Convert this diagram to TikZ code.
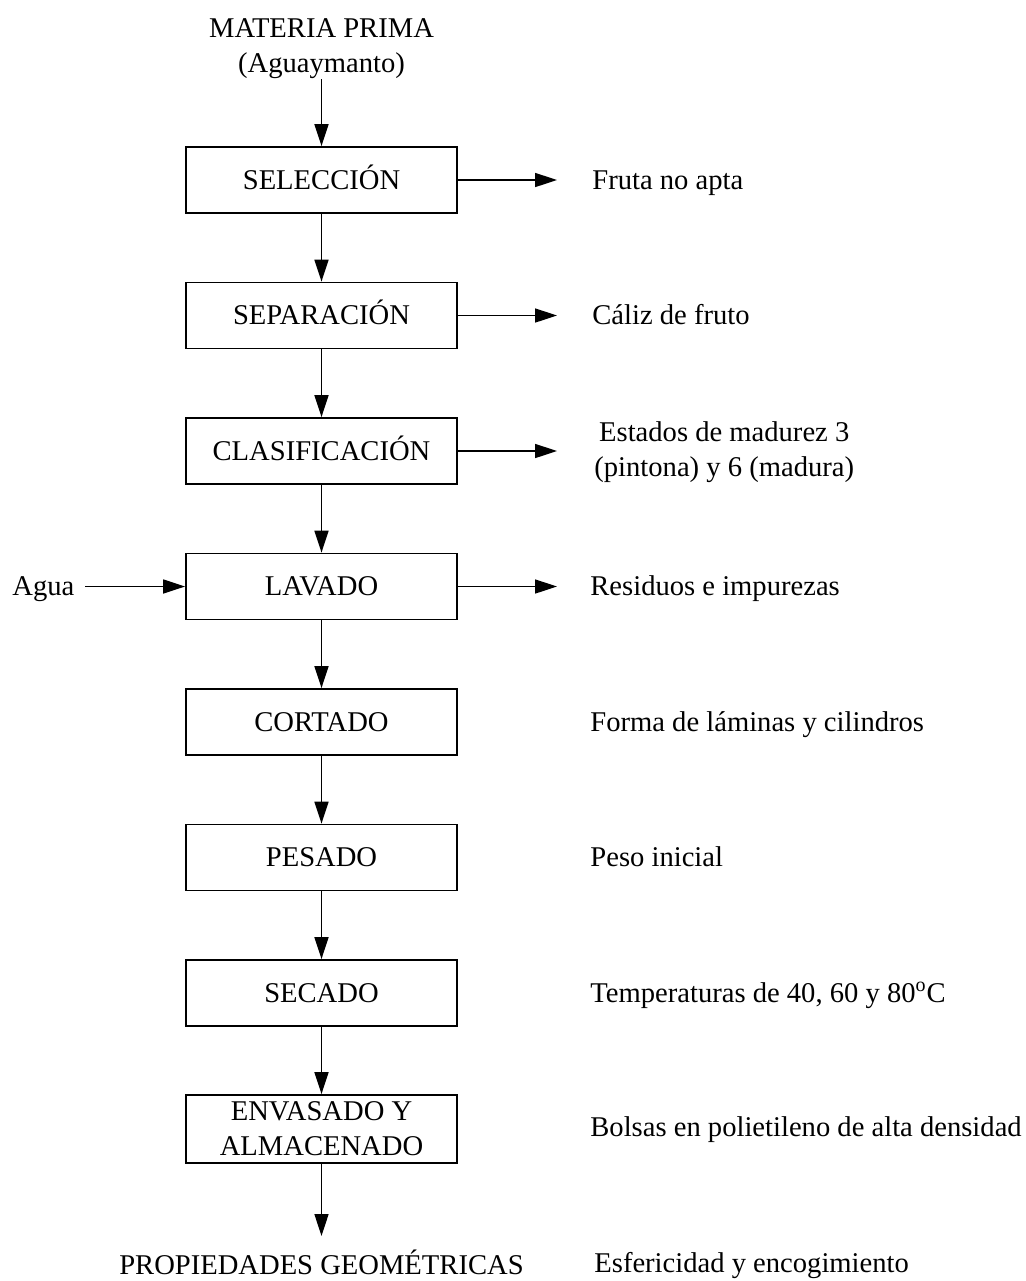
\documentclass[tikz,border=0pt]{standalone}
\usepackage{fontspec}
\setmainfont{Liberation Serif}
\usetikzlibrary{arrows.meta}
\begin{document}
\begin{tikzpicture}[x=0.5pt,y=-0.5pt,
  every node/.style={font=\fontsize{14.3}{17.5}\selectfont},
  procbox/.style={draw,line width=0.9pt,minimum width=135.5pt,minimum height=33pt,inner sep=0pt,align=center},
  onebox/.style={procbox,text height=1.05em,text depth=0.15em},
  lbl/.style={anchor=west,inner sep=0pt,align=left,text height=1.05em,text depth=0.15em},
  lblm/.style={anchor=west,inner sep=0pt,align=center},
  txt/.style={inner sep=0pt,align=center},
  flow/.style={line width=0.8pt,-{Triangle[length=11pt,width=7pt]}}]
\useasboundingbox (0,0) rectangle (1026,1281);
\node[txt] (mp) at (321.5,49) {MATERIA PRIMA\\(Aguaymanto)};
\node[onebox] (sel) at (321.5,180) {SELECCIÓN};
\node[onebox] (sep) at (321.5,315.5) {SEPARACIÓN};
\node[onebox] (cla) at (321.5,451) {CLASIFICACIÓN};
\node[onebox] (lav) at (321.5,586.5) {LAVADO};
\node[onebox] (cor) at (321.5,722) {CORTADO};
\node[onebox] (pes) at (321.5,857.5) {PESADO};
\node[onebox] (sec) at (321.5,993) {SECADO};
\node[procbox,minimum height=34pt] (env) at (321.5,1129) {ENVASADO Y\\ALMACENADO};
\node[txt,text height=1.05em,text depth=0.15em] (prop) at (321.5,1265) {PROPIEDADES GEOMÉTRICAS};
\coordinate (propin) at (321.5,1236);

\node[lbl] (l1) at (592,180) {Fruta no apta};
\node[lbl] (l2) at (592,315.5) {Cáliz de fruto};
\node[lblm] (l3) at (594,452) {Estados de madurez 3\\(pintona) y 6 (madura)};
\node[lbl] (l4) at (590,586.5) {Residuos e impurezas};
\node[lbl] (l5) at (590,722) {Forma de láminas y cilindros};
\node[lbl] (l6) at (590,857.5) {Peso inicial};
\node[lbl] (l7) at (590,993) {Temperaturas de 40, 60 y 80\textsuperscript{o}C};
\node[lbl] (l8) at (590,1127) {Bolsas en polietileno de alta densidad};
\node[lbl] (l9) at (594,1263) {Esfericidad y encogimiento};

\node[lbl] (agua) at (12,586.5) {Agua};
\coordinate (aguastart) at (85,586.5);

\coordinate (o1) at (557,180);
\coordinate (o2) at (557,315.5);
\coordinate (o3) at (557,451);
\coordinate (o4) at (557,586.5);

\draw[flow] (mp.south) -- (sel.north);
\draw[flow] (sel) -- (sep);
\draw[flow] (sep) -- (cla);
\draw[flow] (cla) -- (lav);
\draw[flow] (lav) -- (cor);
\draw[flow] (cor) -- (pes);
\draw[flow] (pes) -- (sec);
\draw[flow] (sec) -- (env);
\draw[flow] (env.south) -- (propin);

\draw[flow] (sel.east) -- (o1);
\draw[flow] (sep.east) -- (o2);
\draw[flow] (cla.east) -- (o3);
\draw[flow] (lav.east) -- (o4);
\draw[flow] (aguastart) -- (lav.west);
\end{tikzpicture}
\end{document}
